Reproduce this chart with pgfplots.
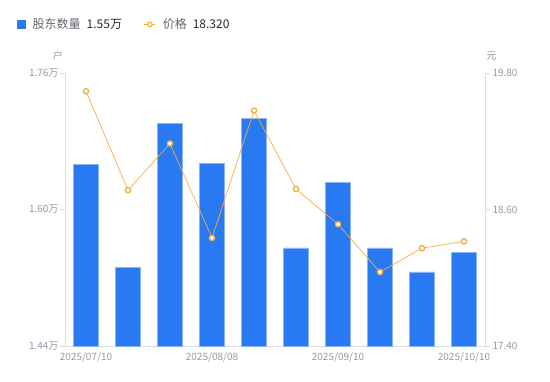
\documentclass[border=0pt]{standalone}
\usepackage{pgfplots}
\pgfplotsset{compat=1.18}
\usepackage{fontspec}
\setmainfont{Noto Sans CJK SC}
\definecolor{barblue}{RGB}{40,121,242}
\definecolor{baredge}{RGB}{140,180,248}
\definecolor{lineor}{RGB}{246,173,55}
\definecolor{ticklab}{RGB}{150,152,168}
\definecolor{axgray}{RGB}{221,221,226}
\definecolor{legtext}{RGB}{100,100,112}
\definecolor{legval}{RGB}{40,40,45}
\begin{document}
\begin{tikzpicture}
\pgfplotsset{
  common/.style={
    scale only axis, width=420pt, height=273pt,
    xmin=-0.5, xmax=9.5,
    clip mode=individual,
    tick label style={font=\fontsize{10}{12}\selectfont, text=ticklab},
    /pgf/number format/assume math mode=true,
    major tick length=5pt,
    every tick/.style={draw=axgray, line width=0.6pt},
    axis line style={draw=axgray, line width=0.8pt},
  }
}
\begin{axis}[common,
  axis y line*=left, axis x line*=bottom,
  ymin=1.44, ymax=1.76,
  ytick={1.44,1.60,1.76},
  yticklabels={1.44万,1.60万,1.76万},
  xtick={0,3,6,9},
  xticklabels={2025/07/10,2025/08/08,2025/09/10,2025/10/10},
  x tick style={draw=none},
  xtick align=outside, ytick align=outside,
  xticklabel style={yshift=2pt},
  yticklabel style={xshift=2pt},
]
\addplot[ybar, bar width=0.6, bar shift=0pt, fill=barblue, draw=baredge, line width=0.5pt]
coordinates {(0,1.653) (1,1.532) (2,1.701) (3,1.654) (4,1.707) (5,1.555) (6,1.632) (7,1.555) (8,1.527) (9,1.550)};
\node[font=\fontsize{10}{12}\selectfont, text=ticklab] at (rel axis cs:-0.017,1.063) {户};
\end{axis}
\begin{axis}[common,
  axis y line*=right, axis x line=none,
  ymin=17.4, ymax=19.8,
  ytick={17.4,18.6,19.8},
  yticklabel style={xshift=-1pt, /pgf/number format/.cd, fixed, fixed zerofill, precision=2},
  ytick align=outside,
  legend style={at={(rel axis cs:-0.114,1.207)}, anchor=north west, draw=none, fill=none,
    font=\fontsize{12}{14}\selectfont, column sep=5pt, inner sep=0pt,
    nodes={inner sep=2pt},
    /tikz/every even column/.append style={column sep=20pt}},
  legend columns=2,
]
\addlegendimage{legend image code/.code={\fill[barblue] (0pt,-4pt) rectangle (8pt,4pt);}}
\addlegendentry{\textcolor{legtext}{股东数量}\hspace{6pt}\textcolor{legval}{1.55万}}
\addplot[color=lineor, line width=0.7pt, mark=*, mark size=2.6pt,
  mark options={fill=white, draw=lineor, line width=1.3pt},
  legend image code/.code={\draw[lineor, line width=0.8pt] (0pt,0pt) -- (11pt,0pt);
     \draw[lineor, fill=white, line width=1.2pt] (5.5pt,0pt) circle (2.2pt);}]
coordinates {(0,19.64) (1,18.77) (2,19.18) (3,18.35) (4,19.47) (5,18.78) (6,18.47) (7,18.05) (8,18.26) (9,18.32)};
\addlegendentry{\textcolor{legtext}{价格}\hspace{6pt}\textcolor{legval}{18.320}}
\node[font=\fontsize{10}{12}\selectfont, text=ticklab] at (rel axis cs:1.015,1.063) {元};
\path (rel axis cs:0,0) ++(-65pt,-35pt) coordinate (bl);
\path (rel axis cs:1,1) ++(65pt,73pt) coordinate (tr);
\end{axis}
\useasboundingbox (bl) rectangle (tr);
\end{tikzpicture}
\end{document}
